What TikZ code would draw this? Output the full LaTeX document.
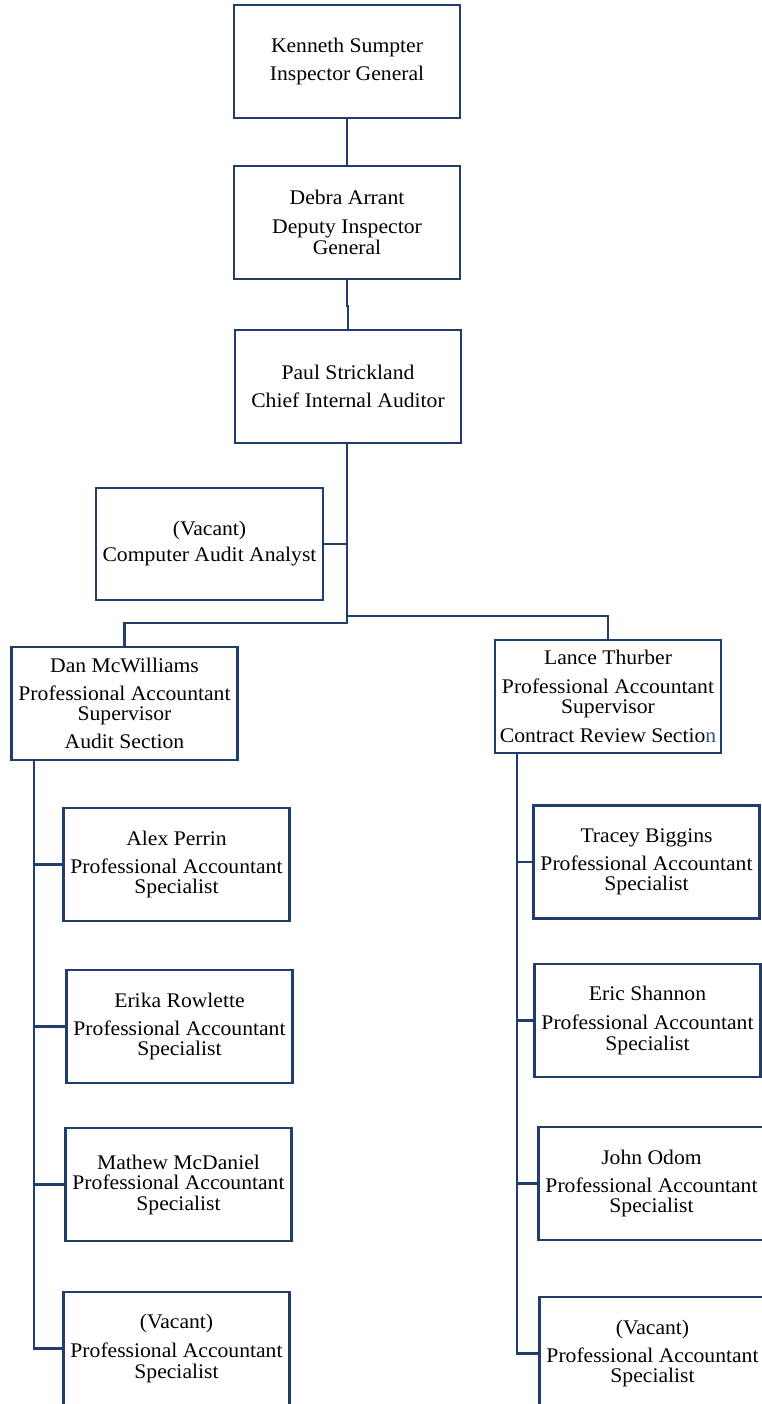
\documentclass[tikz,border=0pt]{standalone}
\usepackage{fontspec}
\setmainfont[FakeStretch=1.04]{Liberation Serif}
\definecolor{orgblue}{RGB}{33,61,107}
\definecolor{nblue}{RGB}{50,80,140}
\begin{document}
\begin{tikzpicture}[x=1pt,y=-1pt,
  orgbox/.style={draw=orgblue,line width=2.5pt,fill=white,minimum width=226pt,minimum height=113pt,inner sep=0pt,align=center,font=\fontsize{20.8}{20.5}\selectfont,text=black},
  link/.style={draw=orgblue,line width=2.5pt}]
\clip (0,0) rectangle (762,1404);
\useasboundingbox (0,0) rectangle (762,1404);
\node[orgbox] (ken) at (347,61.5) {Kenneth Sumpter\\[7.5pt]Inspector General};
\node[orgbox] (deb) at (347,222.5) {Debra Arrant\\[8.5pt]Deputy Inspector\\General};
\node[orgbox] (paul) at (348,386.5) {Paul Strickland\\[7.5pt]Chief Internal Auditor};
\node[orgbox,minimum width=227pt,minimum height=112pt] (caa) at (209.5,544) {(Vacant)\\[5.5pt]Computer Audit Analyst};
\node[orgbox] (dan) at (124.5,703.5) {Dan McWilliams\\[7.5pt]Professional Accountant\\Supervisor\\[7.5pt]Audit Section};
\node[orgbox] (lance) at (608,696.5) {Lance Thurber\\[8.5pt]Professional Accountant\\Supervisor\\[8.5pt]Contract Review Sectio\textcolor{nblue}{n}};
\node[orgbox] (alex) at (176.5,864.5) {Alex Perrin\\[7.5pt]Professional Accountant\\Specialist};
\node[orgbox] (erika) at (179.5,1026.5) {Erika Rowlette\\[7.5pt]Professional Accountant\\Specialist};
\node[orgbox] (mat) at (178.5,1184.5) {Mathew McDaniel\\Professional Accountant\\Specialist};
\node[orgbox] (vacl) at (176.5,1348.5) {(Vacant)\\[8.5pt]Professional Accountant\\Specialist};
\node[orgbox] (tracey) at (646.5,862) {Tracey Biggins\\[7.5pt]Professional Accountant\\Specialist};
\node[orgbox] (eric) at (647.5,1020.5) {Eric Shannon\\[8.5pt]Professional Accountant\\Specialist};
\node[orgbox] (john) at (651.5,1183.5) {John Odom\\[7.5pt]Professional Accountant\\Specialist};
\node[orgbox] (vacr) at (652.5,1353.5) {(Vacant)\\[7.5pt]Professional Accountant\\Specialist};
\coordinate (jl) at (347,623);
\coordinate (jr) at (347,616);
\coordinate (tl) at (34,0);
\coordinate (tr) at (517,0);
\draw[link] (ken.south) -- (deb.north);
\draw[link] (deb.south) -- ++(0,26) -| (paul.north);
\draw[link] (paul.south -| jl) -- (jl) -| (dan.north);
\draw[link] (jr) -| (lance.north);
\draw[link] (caa.east) -- (caa.east -| jl);
\draw[link] (dan.south -| tl) |- (vacl.west);
\draw[link] (alex.west) -- (alex.west -| tl);
\draw[link] (erika.west) -- (erika.west -| tl);
\draw[link] (mat.west) -- (mat.west -| tl);
\draw[link] (lance.south -| tr) |- (vacr.west);
\draw[link] (tracey.west) -- (tracey.west -| tr);
\draw[link] (eric.west) -- (eric.west -| tr);
\draw[link] (john.west) -- (john.west -| tr);
\end{tikzpicture}
\end{document}
